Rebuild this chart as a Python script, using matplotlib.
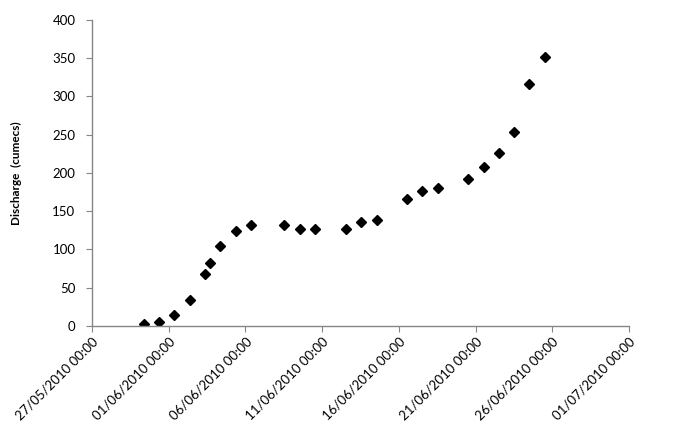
import pandas as pd
import matplotlib
matplotlib.use('Agg')
import matplotlib.pyplot as plt
import matplotlib.dates as mdates

plt.rcParams['font.family'] = ['Lato', 'DejaVu Sans']

# discharge readings
times = ['2010-05-30 09:30', '2010-05-31 09:30', '2010-06-01 08:30', '2010-06-02 08:30',
         '2010-06-03 09:00', '2010-06-03 17:00', '2010-06-04 08:00', '2010-06-05 09:00',
         '2010-06-06 09:00', '2010-06-08 13:00', '2010-06-09 13:30', '2010-06-10 13:00',
         '2010-06-12 13:00', '2010-06-13 13:00', '2010-06-14 13:30', '2010-06-16 12:45',
         '2010-06-17 12:45', '2010-06-18 12:45', '2010-06-20 12:45', '2010-06-21 12:45',
         '2010-06-22 13:00', '2010-06-23 12:45', '2010-06-24 12:00', '2010-06-25 13:00']
discharge = [2, 5, 15, 34, 68, 83, 105, 124, 132, 132, 127, 127,
             127, 136, 138, 166, 176, 181, 192, 208, 226, 254, 316, 352]

x_ticks = pd.date_range('2010-05-27', '2010-07-01', freq='5D')

df = pd.DataFrame({'time': pd.to_datetime(times), 'Q': discharge})

fig = plt.figure(figsize=(6.93, 4.29), dpi=100)
ax = fig.add_axes([0.1328, 0.2401, 0.7748, 0.7133])

ax.plot(df.time, df.Q, linestyle='none', marker='D', color='black', markersize=5.5)

ax.set_xlim(x_ticks[0], x_ticks[-1])
ax.set_ylim(0, 400)
ax.set_yticks(range(0, 401, 50))
ax.set_xticks(x_ticks)
ax.xaxis.set_major_formatter(mdates.DateFormatter('%d/%m/%Y %H:%M'))
plt.setp(ax.get_xticklabels(), rotation=45, ha='right', rotation_mode='anchor')

for side in ['top', 'right']:
    ax.spines[side].set_visible(False)
for side in ['left', 'bottom']:
    ax.spines[side].set_color('#868686')
    ax.spines[side].set_linewidth(1)
ax.tick_params(axis='both', direction='out', length=4, color='#868686', labelsize=9.5, pad=3)
ax.tick_params(axis='y', pad=8)

ax.set_ylabel('Discharge  (cumecs)', fontsize=8.5, fontweight='bold', labelpad=22)

fig.savefig('out.png', dpi=100)
